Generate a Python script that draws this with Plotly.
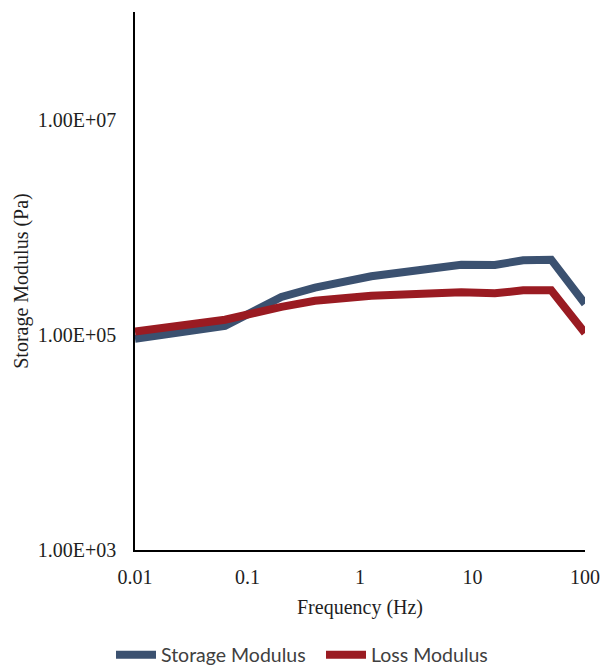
import plotly.graph_objects as go

freq = [0.01, 0.0631, 0.2, 0.398, 1.26, 7.94, 15.8, 28.2, 50.1, 100]
storage = [9.2e4, 1.21e5, 2.25e5, 2.75e5, 3.5e5, 4.48e5, 4.45e5, 4.93e5, 4.99e5, 1.94e5]
loss = [1.07e5, 1.38e5, 1.82e5, 2.07e5, 2.31e5, 2.48e5, 2.43e5, 2.59e5, 2.59e5, 1.04e5]

x_tickvals = [0.01, 0.1, 1, 10, 100]
x_ticktext = ["0.01", "0.1", "1", "10", "100"]
y_tickvals = [1e3, 1e5, 1e7]
y_ticktext = ["1.00E+03", "1.00E+05", "1.00E+07"]

fig = go.Figure()
fig.add_trace(go.Scatter(x=freq, y=storage, mode="lines", name="Storage Modulus",
                         line=dict(color="#3B5170", width=8), legend="legend"))
fig.add_trace(go.Scatter(x=freq, y=loss, mode="lines", name="Loss Modulus",
                         line=dict(color="#9A1B22", width=8), legend="legend2"))

axis_font = dict(family="Liberation Serif", size=20, color="#1e1e1e")
legend_font = dict(family="Lato", size=19.5, color="#404040")
fig.update_layout(
    width=600, height=668,
    margin=dict(l=135, r=15, t=12, b=118, autoexpand=False),
    paper_bgcolor="white", plot_bgcolor="white",
    showlegend=True,
    legend=dict(orientation="h", xref="container", yref="container",
                x=0.185, xanchor="left", y=0.0195, yanchor="middle",
                font=legend_font, itemwidth=40),
    legend2=dict(orientation="h", xref="container", yref="container",
                 x=0.535, xanchor="left", y=0.0195, yanchor="middle",
                 font=legend_font, itemwidth=40),
    xaxis=dict(type="log", range=[-2, 2], tickvals=x_tickvals, ticktext=x_ticktext,
               showgrid=False, zeroline=False, showline=True, linecolor="black", linewidth=1.5,
               ticks="", tickfont=axis_font, ticklabelstandoff=8, automargin=False,
               title=dict(text="Frequency (Hz)", font=axis_font, standoff=13)),
    yaxis=dict(type="log", range=[3, 8], tickvals=y_tickvals, ticktext=y_ticktext,
               showgrid=False, zeroline=False, showline=True, linecolor="black", linewidth=1.5,
               ticks="", tickfont=axis_font, ticklabelstandoff=13, automargin=False,
               title=dict(text="Storage Modulus (Pa)", font=axis_font, standoff=4)),
)
fig.write_html(
    "out.html",
    config={"displayModeBar": False},
    post_script="document.body.style.margin='0';"
                "document.body.style.overflow='hidden';"
                "document.documentElement.style.overflow='hidden';",
)
